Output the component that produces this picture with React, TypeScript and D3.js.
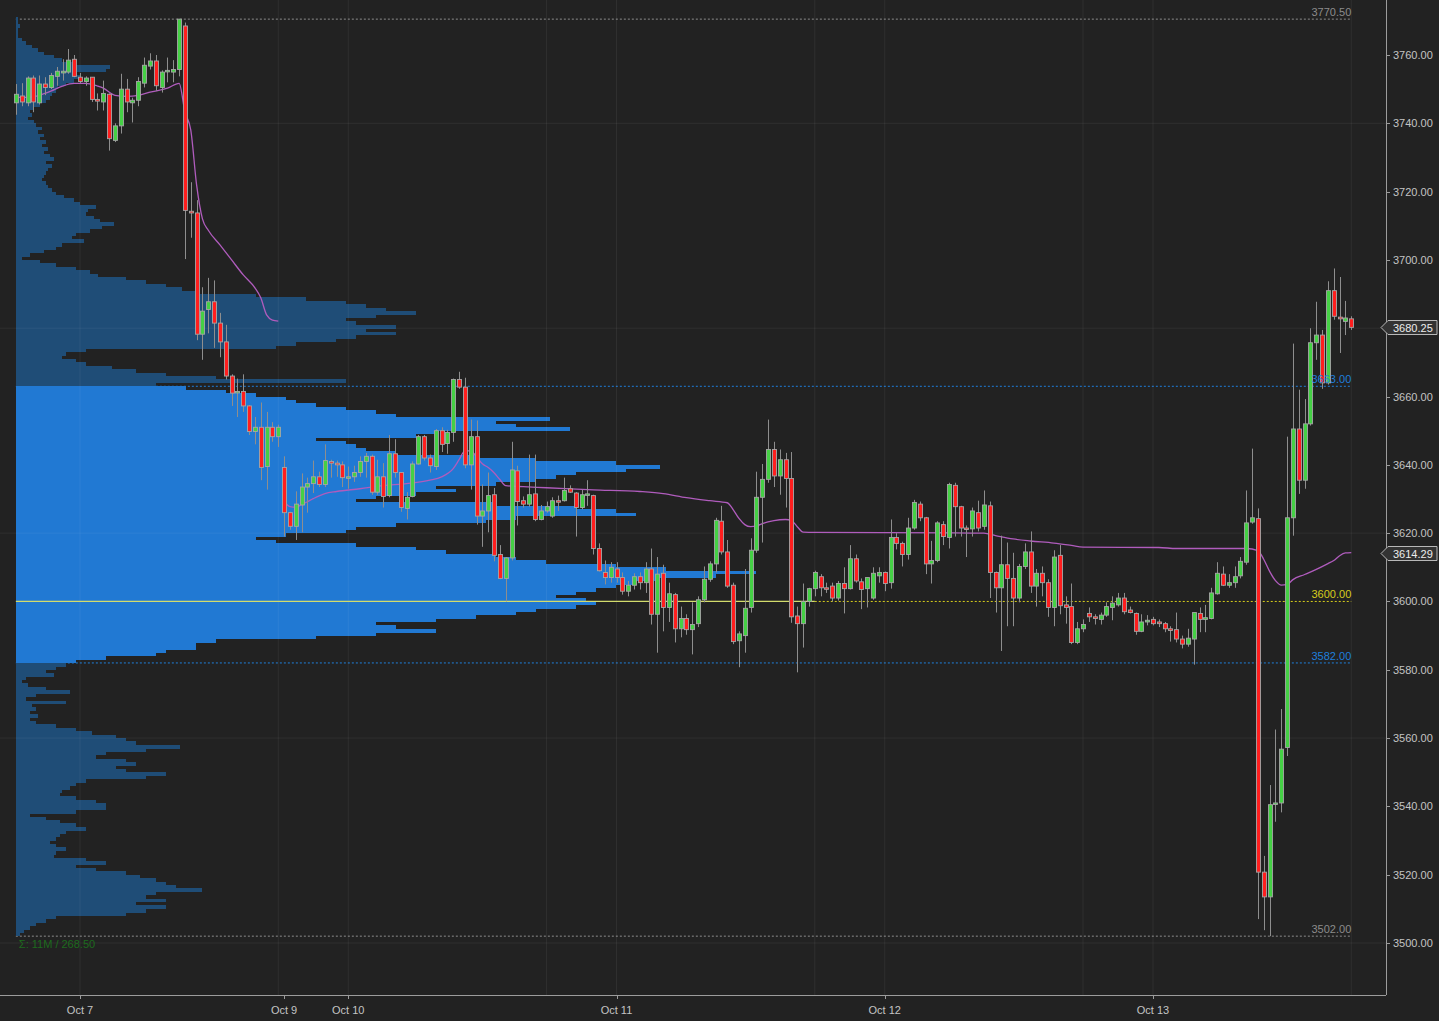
import React from 'react';
import * as d3 from 'd3';

// 30-minute ES bars, first bar sits 11 bars before Oct 7 00:00
const firstBar = -11;
// [open, high, low, close]
const bars: [number, number, number, number][] = [
  [3746, 3751.5, 3742.5, 3748.5], [3748, 3751.75, 3745, 3746.25], [3746, 3753.75, 3745, 3753.25],
  [3753.25, 3754, 3743.25, 3746.25], [3746, 3754, 3745.5, 3751.5], [3751.5, 3753.5, 3748.25, 3750.5],
  [3750.5, 3754.75, 3750, 3754], [3753.75, 3756.5, 3751, 3755.25], [3754.75, 3758.75, 3752.5, 3755.25],
  [3755, 3761.75, 3754.5, 3758.5], [3758.75, 3760, 3753.5, 3753.75],
  // Oct 7
  [3753.5, 3754.75, 3751.75, 3752.25], [3752.25, 3753.75, 3751, 3753.25], [3753.5, 3753.5, 3746.25, 3747],
  [3747, 3748.75, 3743.75, 3746.5], [3746.25, 3752.5, 3743.75, 3748.75], [3748.5, 3748.75, 3732, 3735.5],
  [3735, 3740, 3734.5, 3739.25], [3739.25, 3754.5, 3737, 3750], [3750, 3753, 3743.25, 3746.25],
  [3746, 3747.5, 3740.25, 3746.75], [3746.75, 3753.5, 3745, 3752.25], [3751.75, 3759.25, 3750.5, 3757],
  [3756.75, 3760.5, 3755.75, 3758.25], [3758.25, 3760, 3749.5, 3751], [3750.5, 3755.5, 3749, 3755],
  [3755.25, 3759.25, 3752, 3755.5], [3755, 3758.5, 3752, 3755.75], [3755.75, 3770.5, 3753.75, 3770.5],
  [3768.5, 3769.5, 3700.25, 3714.5], [3714.25, 3722.75, 3706.5, 3713.75], [3713.75, 3717.5, 3676.5, 3678.25],
  [3678.25, 3692, 3670.75, 3685], [3685.5, 3694.75, 3678.5, 3687.75], [3687.75, 3694, 3674.25, 3681.5],
  [3681.5, 3684.5, 3671.5, 3676], [3676, 3681, 3665, 3666], [3666, 3666.5, 3657.25, 3661],
  [3661.25, 3665.25, 3654, 3661.5], [3661.5, 3666.5, 3655.5, 3657.25], [3657.25, 3657.5, 3648.75, 3649.75],
  [3649.75, 3654, 3646, 3651], [3651, 3658.25, 3635.5, 3639.25], [3639.5, 3655.5, 3632.75, 3651],
  [3651, 3652.5, 3646.75, 3648.25], [3648.25, 3651.75, 3645.25, 3651],
  // Oct 9 evening
  [3639.25, 3642.5, 3619, 3626], [3626, 3626.25, 3621, 3622], [3622, 3632.25, 3618, 3628.5],
  [3628.25, 3637.5, 3620.25, 3633.5], [3633.5, 3636.25, 3626, 3634.5], [3634.5, 3641.25, 3631.75, 3636.5],
  [3636.5, 3638, 3633.5, 3634.25], [3634.25, 3646, 3633.5, 3641.25], [3641, 3641.5, 3636.25, 3640.5],
  [3640.5, 3641.25, 3636.5, 3640], [3640, 3641, 3633.5, 3636.25],
  // Oct 10
  [3636.25, 3639.5, 3633, 3636.5], [3636.5, 3639.75, 3635, 3637.75], [3637.75, 3642.5, 3636.5, 3641],
  [3641, 3643.5, 3636.25, 3642.5], [3642.5, 3643, 3631.25, 3632], [3632, 3641.5, 3631.25, 3636.5],
  [3636.5, 3640.5, 3627.5, 3630.75], [3631, 3648.75, 3630.5, 3643.25], [3643.25, 3647.5, 3636.25, 3637.75],
  [3637.75, 3637.75, 3626.25, 3627.5], [3627.25, 3632, 3624, 3630.5], [3630.75, 3641, 3630.5, 3640.25],
  [3640.25, 3648.75, 3640, 3648.25], [3648.25, 3648.75, 3641.25, 3642], [3642, 3643, 3637.75, 3639.75],
  [3639.5, 3650.5, 3638.5, 3650], [3650, 3651, 3643.75, 3646], [3646.25, 3650.25, 3643.25, 3649.5],
  [3649.5, 3665.25, 3646.75, 3665], [3665, 3667.25, 3662.25, 3662.75], [3662.75, 3665.5, 3639, 3640],
  [3640, 3653.25, 3632.75, 3648.25], [3648.25, 3653, 3622.5, 3625], [3625, 3634.25, 3616, 3626.5],
  [3626.5, 3637.75, 3620.25, 3631], [3631.25, 3633.25, 3611.75, 3613.5], [3613.75, 3616.5, 3606.5, 3606.75],
  [3606.75, 3613, 3600, 3612.75], [3612.75, 3646.75, 3612, 3638.5], [3638.25, 3639.75, 3622.25, 3629.25],
  [3629.5, 3630.75, 3627.5, 3628.5], [3628.5, 3643, 3627.75, 3631.25], [3631.5, 3643, 3623.5, 3624],
  [3624, 3628.25, 3623.75, 3626.5], [3626.5, 3629.25, 3626, 3627.75], [3625, 3630.5, 3624.5, 3629.5],
  [3629.5, 3631, 3626.5, 3629.25], [3629.5, 3636.25, 3629.25, 3632.5], [3633, 3634, 3631.75, 3632],
  [3631.75, 3632, 3619, 3627.5], [3627.5, 3632.75, 3627, 3631.25], [3631.25, 3635.5, 3628, 3631.5],
  [3631, 3631.25, 3613.75, 3615.5], [3615.5, 3617, 3608.75, 3609], [3608.5, 3612, 3605, 3607],
  [3607, 3611.5, 3605.5, 3610],
  // Oct 11
  [3609.5, 3611.5, 3605.5, 3607], [3607, 3608.5, 3602, 3603], [3603, 3606, 3601.5, 3604.75],
  [3604.75, 3608.25, 3603.5, 3607.25], [3607.25, 3608.5, 3603.5, 3605.5], [3605.5, 3611.5, 3602.5, 3609.5],
  [3609.5, 3615.5, 3593.25, 3596.25], [3596.25, 3613, 3585, 3608], [3608.25, 3610.75, 3591.25, 3598.25],
  [3598.25, 3605.5, 3594, 3602.25], [3602, 3602.5, 3588, 3592], [3592, 3598.5, 3589.5, 3595],
  [3595, 3596.25, 3590.25, 3591.75], [3591.75, 3599.75, 3584.5, 3593.25], [3593.5, 3601.5, 3592.5, 3600.5],
  [3600.5, 3610.25, 3599.75, 3606.5], [3606.5, 3611.75, 3605.75, 3611], [3611, 3624.5, 3608.5, 3623.75],
  [3623.5, 3628, 3613.75, 3614.5], [3614.5, 3618, 3604, 3604.5], [3604.75, 3605.5, 3587.5, 3588.25],
  [3588.5, 3591.25, 3580.75, 3590.5], [3590, 3609.5, 3585, 3598], [3598.25, 3618.5, 3596.75, 3615],
  [3615, 3638, 3614.25, 3630.5], [3630.5, 3640.25, 3617.25, 3635.75], [3635.75, 3653.25, 3634.75, 3644.5],
  [3644.5, 3646.75, 3633.5, 3636.75], [3636.75, 3644.5, 3631.25, 3641.5], [3641.5, 3643.5, 3627.5, 3636],
  [3636, 3643.75, 3593.75, 3595.5], [3595.75, 3598.5, 3579.25, 3593.5], [3593.5, 3605.25, 3586.5, 3600],
  [3600, 3604, 3598.5, 3603.75], [3603.75, 3609, 3601.5, 3608.5], [3607.25, 3608, 3601.5, 3604],
  [3604, 3605.5, 3602.5, 3603.75], [3604.5, 3605.5, 3600, 3601], [3601, 3606, 3600.25, 3605.25],
  [3605.25, 3610, 3596.5, 3603.75], [3603.75, 3616.5, 3603.5, 3612.5], [3612.5, 3613.75, 3605.5, 3606],
  [3605.75, 3606.75, 3597.75, 3603.5], [3603.75, 3607, 3598.25, 3607], [3601, 3610, 3600.5, 3608.25],
  [3607.5, 3610, 3605.5, 3608.5],
  // Oct 12
  [3608.5, 3608.75, 3603, 3605.25], [3605.5, 3624, 3603.75, 3618.75], [3618.75, 3620, 3615.25, 3617],
  [3617, 3617.5, 3610.25, 3613.75], [3613.75, 3624.5, 3612.25, 3621.5], [3621.5, 3629.75, 3621, 3629],
  [3628.5, 3629.25, 3623.5, 3624.5], [3624.5, 3624.75, 3608, 3611], [3611, 3617.75, 3605.25, 3612],
  [3612, 3623.5, 3611.5, 3623], [3622.5, 3623.5, 3616.5, 3619], [3618.75, 3634.75, 3615.5, 3634.25],
  [3634, 3634.75, 3619, 3627.75], [3627.75, 3628, 3619, 3621.5], [3621.5, 3622.25, 3613, 3621.25],
  [3621.25, 3627.5, 3619, 3626.5], [3626, 3629.5, 3620.5, 3621.5], [3622, 3632.5, 3621, 3628.25],
  [3628, 3629.25, 3601, 3608.5], [3608.5, 3608.75, 3596.75, 3604], [3604, 3619.25, 3585.5, 3610.75],
  [3610.75, 3617.25, 3592.75, 3606.75], [3606.75, 3614.25, 3592.75, 3601], [3601, 3611, 3599.75, 3610.25],
  [3610.25, 3617, 3609.5, 3614.5], [3614.5, 3620.5, 3602.5, 3604.5], [3604.5, 3609.5, 3598.5, 3608.25],
  [3608.25, 3610.25, 3601.5, 3605.5], [3605.5, 3606.5, 3595.5, 3598.25], [3598.25, 3615, 3592.75, 3613],
  [3613.5, 3616.5, 3596.25, 3598.75], [3599, 3601.5, 3593.5, 3598.25], [3598.5, 3605.25, 3587.5, 3588],
  [3588, 3594, 3587.5, 3592], [3592, 3594.75, 3591, 3593.25], [3596.5, 3598.25, 3594, 3595.5],
  [3595.5, 3596.25, 3593.25, 3595], [3594.75, 3596.75, 3593.25, 3596], [3596, 3599.75, 3595.5, 3598.5],
  [3598.25, 3601.5, 3594.5, 3599.5], [3599, 3602.5, 3598.5, 3601], [3601, 3602.5, 3596.25, 3597],
  [3597.5, 3598.5, 3596.5, 3596.75], [3596.5, 3596.75, 3590.25, 3591.25], [3591.25, 3596.25, 3591, 3594],
  [3594, 3596, 3593, 3594.5],
  // Oct 13
  [3594.75, 3595.5, 3593, 3593.5], [3594, 3594.75, 3592.5, 3593.5], [3593.5, 3594, 3591, 3592],
  [3592, 3592.75, 3588.25, 3591.5], [3591.75, 3596.75, 3588, 3589], [3589, 3590, 3586.25, 3587.5],
  [3587.5, 3592, 3586.75, 3589.25], [3589, 3596.75, 3581.5, 3596.75], [3596.5, 3598.25, 3591, 3594.75],
  [3594.75, 3599, 3591, 3595.25], [3595, 3604, 3594.75, 3602.5], [3602.25, 3611.5, 3602, 3608.25],
  [3608, 3610.25, 3604.5, 3604.75], [3604.75, 3608, 3604, 3605.5], [3605.5, 3610.25, 3604, 3607.25],
  [3607.5, 3613, 3606.75, 3611.75], [3611.5, 3632.5, 3610.75, 3623], [3623.25, 3644.75, 3622.75, 3624.5],
  [3624.25, 3627.25, 3507, 3520.75], [3520.75, 3525.5, 3503.75, 3513.5], [3513.5, 3546.25, 3502, 3540.5],
  [3540.75, 3562.5, 3535.5, 3541], [3541, 3568.5, 3538.25, 3556.75], [3557.25, 3648.25, 3554.75, 3624.5],
  [3624.5, 3675.5, 3619.25, 3650.5], [3650.5, 3662, 3631.5, 3635.5], [3635.5, 3659.25, 3633, 3652],
  [3652, 3680, 3651.5, 3675.75], [3675.75, 3687.75, 3670.75, 3678], [3678, 3679.5, 3662.25, 3664],
  [3664, 3693.75, 3663.5, 3691], [3691, 3697.5, 3682.5, 3683.5], [3683.25, 3695, 3672.75, 3682.75],
  [3682, 3688, 3678, 3683], [3682.75, 3683.5, 3679.5, 3680.25],
];

// VWAP readings [bar, price] — previous week, then current week from Sunday open
const vwapPrev: [number, number][] = [
  [-11, 3747.6], [-9, 3747.6], [-7, 3748.2], [-5, 3749.4], [-3, 3750.9], [-1, 3751.7], [1, 3751.7],
  [3, 3750.9], [4, 3750.3], [6, 3748.2], [8, 3747.9], [10, 3748.2], [12, 3749.1], [15, 3750.3],
  [17, 3751.7], [18, 3743.3], [19, 3738], [20, 3721.9], [21, 3712], [22, 3708.7], [24, 3704.4],
  [26, 3700], [28, 3695.6], [30, 3691.8], [31, 3688.9], [32, 3683.9], [33, 3682.4], [34, 3682.1],
];
const vwapCur: [number, number][] = [
  [35, 3629.2], [36, 3627.8], [37, 3627.6], [38, 3628.4], [39, 3629.2], [40, 3630.1], [42, 3631.6],
  [44, 3632.2], [48, 3633], [52, 3633.9], [56, 3634.5], [60, 3635.5], [62, 3636.5], [64, 3638.9],
  [65, 3641.5], [66, 3644.1], [67, 3644.1], [68, 3642.4], [69, 3640.3], [70, 3639.2], [71, 3637.7],
  [72, 3635.7], [73, 3633.9], [76, 3633.6], [80, 3633.3], [88, 3632.7], [96, 3632.2], [100, 3631.6],
  [104, 3630.4], [108, 3629.5], [111, 3628.9], [112, 3626.9], [113, 3624.3], [114, 3622.5],
  [115, 3621.9], [116, 3622.1], [117, 3622.8], [119, 3623.7], [121, 3624], [122, 3623.7],
  [123, 3621.9], [124, 3620.3], [126, 3620.2], [150, 3620.1], [155, 3620], [157, 3619.3],
  [160, 3618.3], [163, 3617.7], [167, 3617.1], [170, 3616.4], [172, 3615.9], [185, 3615.8],
  [188, 3615.5], [200, 3615.5], [202, 3614.9], [203, 3612.3], [204, 3608.8], [205, 3606.1],
  [206, 3604.8], [207, 3605], [208, 3606.4], [210, 3607.9], [212, 3609.4], [214, 3611.1],
  [215, 3612], [216, 3613.4], [217, 3614.2], [218, 3614.3],
];

// Volume profile, one row per point from 3770 down to 3502
const profileTop = 3770;
const profileVol = [
  1, 1, 2, 1, 1, 1, 3, 5, 8, 11, 14, 19, 23, 28, 47, 45, 30, 32, 29, 25,
  21, 20, 18, 17, 15, 12, 9, 7, 8, 6, 9, 10, 13, 11, 14, 12, 15, 13, 16, 14,
  17, 19, 15, 18, 16, 15, 14, 13, 15, 16, 18, 20, 24, 29, 32, 40, 36, 35, 39, 42,
  49, 43, 37, 30, 28, 34, 23, 20, 14, 7, 3, 12, 20, 30, 37, 41, 55, 65, 75, 83,
  90, 120, 145, 165, 175, 185, 200, 180, 165, 170, 190, 175, 190, 170, 160, 140, 130, 35, 25, 23,
  30, 35, 48, 60, 75, 100, 165, 70, 85, 105, 120, 135, 140, 150, 165, 180, 190, 267, 240, 250,
  277, 210, 200, 150, 165, 170, 175, 190, 230, 260, 300, 322, 305, 280, 270, 260, 240, 210, 220, 200,
  180, 170, 240, 280, 300, 310, 250, 235, 190, 170, 165, 135, 120, 130, 170, 200, 215, 240, 250, 265,
  300, 325, 370, 350, 320, 310, 300, 290, 280, 270, 285, 290, 280, 260, 250, 230, 210, 180, 190, 210,
  180, 150, 100, 90, 90, 75, 70, 45, 30, 25, 20, 15, 19, 5, 3, 6, 15, 27, 10, 5,
  25, 8, 10, 7, 11, 7, 10, 20, 30, 38, 50, 55, 60, 82, 65, 45, 40, 55, 60, 50,
  55, 75, 65, 35, 30, 27, 23, 22, 30, 40, 45, 45, 30, 7, 15, 22, 30, 35, 25, 22,
  20, 17, 20, 25, 20, 19, 35, 45, 30, 40, 55, 62, 70, 75, 80, 93, 70, 65, 75, 60,
  75, 65, 55, 20, 15, 10, 7, 4, 2,
];
const valueArea = [3582, 3663];

const priceTicks = d3.range(3500, 3761, 20);
const priceGrid = [3500, 3560, 3620, 3680, 3740];
const dateTicks = [
  { label: 'Oct 7', bar: 0 }, { label: 'Oct 9', bar: 35 }, { label: 'Oct 10', bar: 46 },
  { label: 'Oct 11', bar: 92 }, { label: 'Oct 12', bar: 138 }, { label: 'Oct 13', bar: 184 },
];
const sessionGrid = [0, 34, 46, 80, 92, 126, 138, 172, 184, 218];

const levels = [
  { price: 3770.5, text: '3770.50', color: '#8c8c8c' },
  { price: 3663, text: '3663.00', color: '#1f7fdc' },
  { price: 3600, text: '3600.00', color: '#d6cc1c' },
  { price: 3582, text: '3582.00', color: '#1f7fdc' },
  { price: 3502, text: '3502.00', color: '#8c8c8c' },
];
const flags = [
  { price: 3680.25, text: '3680.25' },
  { price: 3614.29, text: '3614.29' },
];

const W = 1439;
const H = 1021;
const axisX = 1386;
const axisY = 995;
const font = '"Liberation Sans", Arial, sans-serif';

export default function App() {
  const x = d3.scaleLinear().domain([0, 184]).range([80, 1153]);
  const y = d3.scaleLinear().domain([3500, 3760]).range([943, 55]);
  const vol = d3.scaleLinear().domain([0, 100]).range([0, 200]);

  const lastBar = firstBar + bars.length - 1;
  const left = x(firstBar);
  const right = x(lastBar);
  const line = d3.line<[number, number]>().x(d => x(d[0])).y(d => y(d[1])).curve(d3.curveMonotoneX);

  return (
    <svg width={W} height={H} style={{ position: 'absolute', left: 0, top: 0, background: '#222222' }}
      fontFamily={font}>
      <defs>
        <clipPath id="plot"><rect x={0} y={0} width={axisX} height={axisY} /></clipPath>
      </defs>
      <rect x={0} y={0} width={W} height={H} fill="#222222" />

      <g clipPath="url(#plot)">
        {/* dotted level lines sit under the profile */}
        {levels.map(l => (
          <line key={l.text} x1={l.price === 3600 ? x(126) : left} x2={right} y1={y(l.price)} y2={y(l.price)}
            stroke={l.color} strokeWidth={1} strokeDasharray="2,2" />
        ))}

        {/* volume profile */}
        <g shapeRendering="crispEdges">
          {profileVol.map((v, k) => {
            const p = profileTop - k;
            const inVA = p >= valueArea[0] && p < valueArea[1];
            return (
              <rect key={p} x={left} y={y(p + 1)} width={vol(v)} height={y(p) - y(p + 1) + 0.3}
                fill={inVA ? '#2179d3' : '#1f4d77'} />
            );
          })}
        </g>

        {/* grid */}
        {priceGrid.map(p => (
          <line key={p} x1={0} x2={axisX} y1={y(p)} y2={y(p)} stroke="rgba(255,255,255,0.06)" />
        ))}
        {sessionGrid.map(b => (
          <line key={b} x1={x(b)} x2={x(b)} y1={0} y2={axisY} stroke="rgba(255,255,255,0.06)" />
        ))}

        {/* POC line through the profile */}
        <line x1={left} x2={x(126)} y1={y(3600)} y2={y(3600)} stroke="#d3dc6c" strokeWidth={1.2} />

        {/* VWAP */}
        <path d={line(vwapPrev) || ''} fill="none" stroke="#b05cbd" strokeWidth={1.3} />
        <path d={line(vwapCur) || ''} fill="none" stroke="#b05cbd" strokeWidth={1.3} />

        {/* candles */}
        {bars.map((b, k) => {
          const [o, h, l, c] = b;
          const cx = Math.round(x(firstBar + k)) + 0.5;
          const top = y(Math.max(o, c));
          const bot = y(Math.min(o, c));
          const bh = Math.max(bot - top, 1.5);
          const fill = c > o ? '#45d045' : c < o ? '#ff1e1e' : '#bdbdbd';
          return (
            <g key={k}>
              <line x1={cx} x2={cx} y1={y(h)} y2={y(l)} stroke="#8e8e8e" strokeWidth={1} />
              <rect x={cx - 2} y={top} width={4} height={bh} fill={fill} stroke="#a6a6a6" strokeWidth={0.9} />
            </g>
          );
        })}

        {/* level labels */}
        {levels.map(l => (
          <text key={l.text} x={right} y={y(l.price) - 3} textAnchor="end" fontSize={11} fill={l.color}>{l.text}</text>
        ))}

        <text x={left + 3} y={948} fontSize={11} fill="#1d6a1d">Σ: 11M / 268.50</text>
      </g>

      {/* right price axis */}
      <line x1={axisX + 0.5} x2={axisX + 0.5} y1={0} y2={axisY} stroke="#9c9c9c" />
      {priceTicks.map(p => (
        <g key={p}>
          <line x1={axisX} x2={axisX + 4} y1={Math.round(y(p)) + 0.5} y2={Math.round(y(p)) + 0.5} stroke="#9c9c9c" />
          <text x={axisX + 7} y={y(p) + 4} fontSize={11} fill="#c4c4c4">{p.toFixed(2)}</text>
        </g>
      ))}
      {flags.map(f => {
        const fy = Math.round(y(f.price)) + 0.5;
        return (
          <g key={f.text}>
            <path d={`M${axisX - 5},${fy} L${axisX + 2},${fy - 7} H${W - 2} V${fy + 7} H${axisX + 2} Z`}
              fill="#333333" stroke="#b8b8b8" strokeWidth={1} />
            <text x={axisX + 7} y={fy + 4} fontSize={11} fill="#ececec">{f.text}</text>
          </g>
        );
      })}

      {/* bottom time axis */}
      <line x1={0} x2={axisX} y1={axisY + 0.5} y2={axisY + 0.5} stroke="#9c9c9c" />
      {dateTicks.map(t => (
        <g key={t.label}>
          <line x1={Math.round(x(t.bar)) + 0.5} x2={Math.round(x(t.bar)) + 0.5} y1={axisY} y2={axisY + 4} stroke="#9c9c9c" />
          <text x={x(t.bar)} y={axisY + 19} textAnchor="middle" fontSize={11} fill="#c4c4c4">{t.label}</text>
        </g>
      ))}
    </svg>
  );
}
